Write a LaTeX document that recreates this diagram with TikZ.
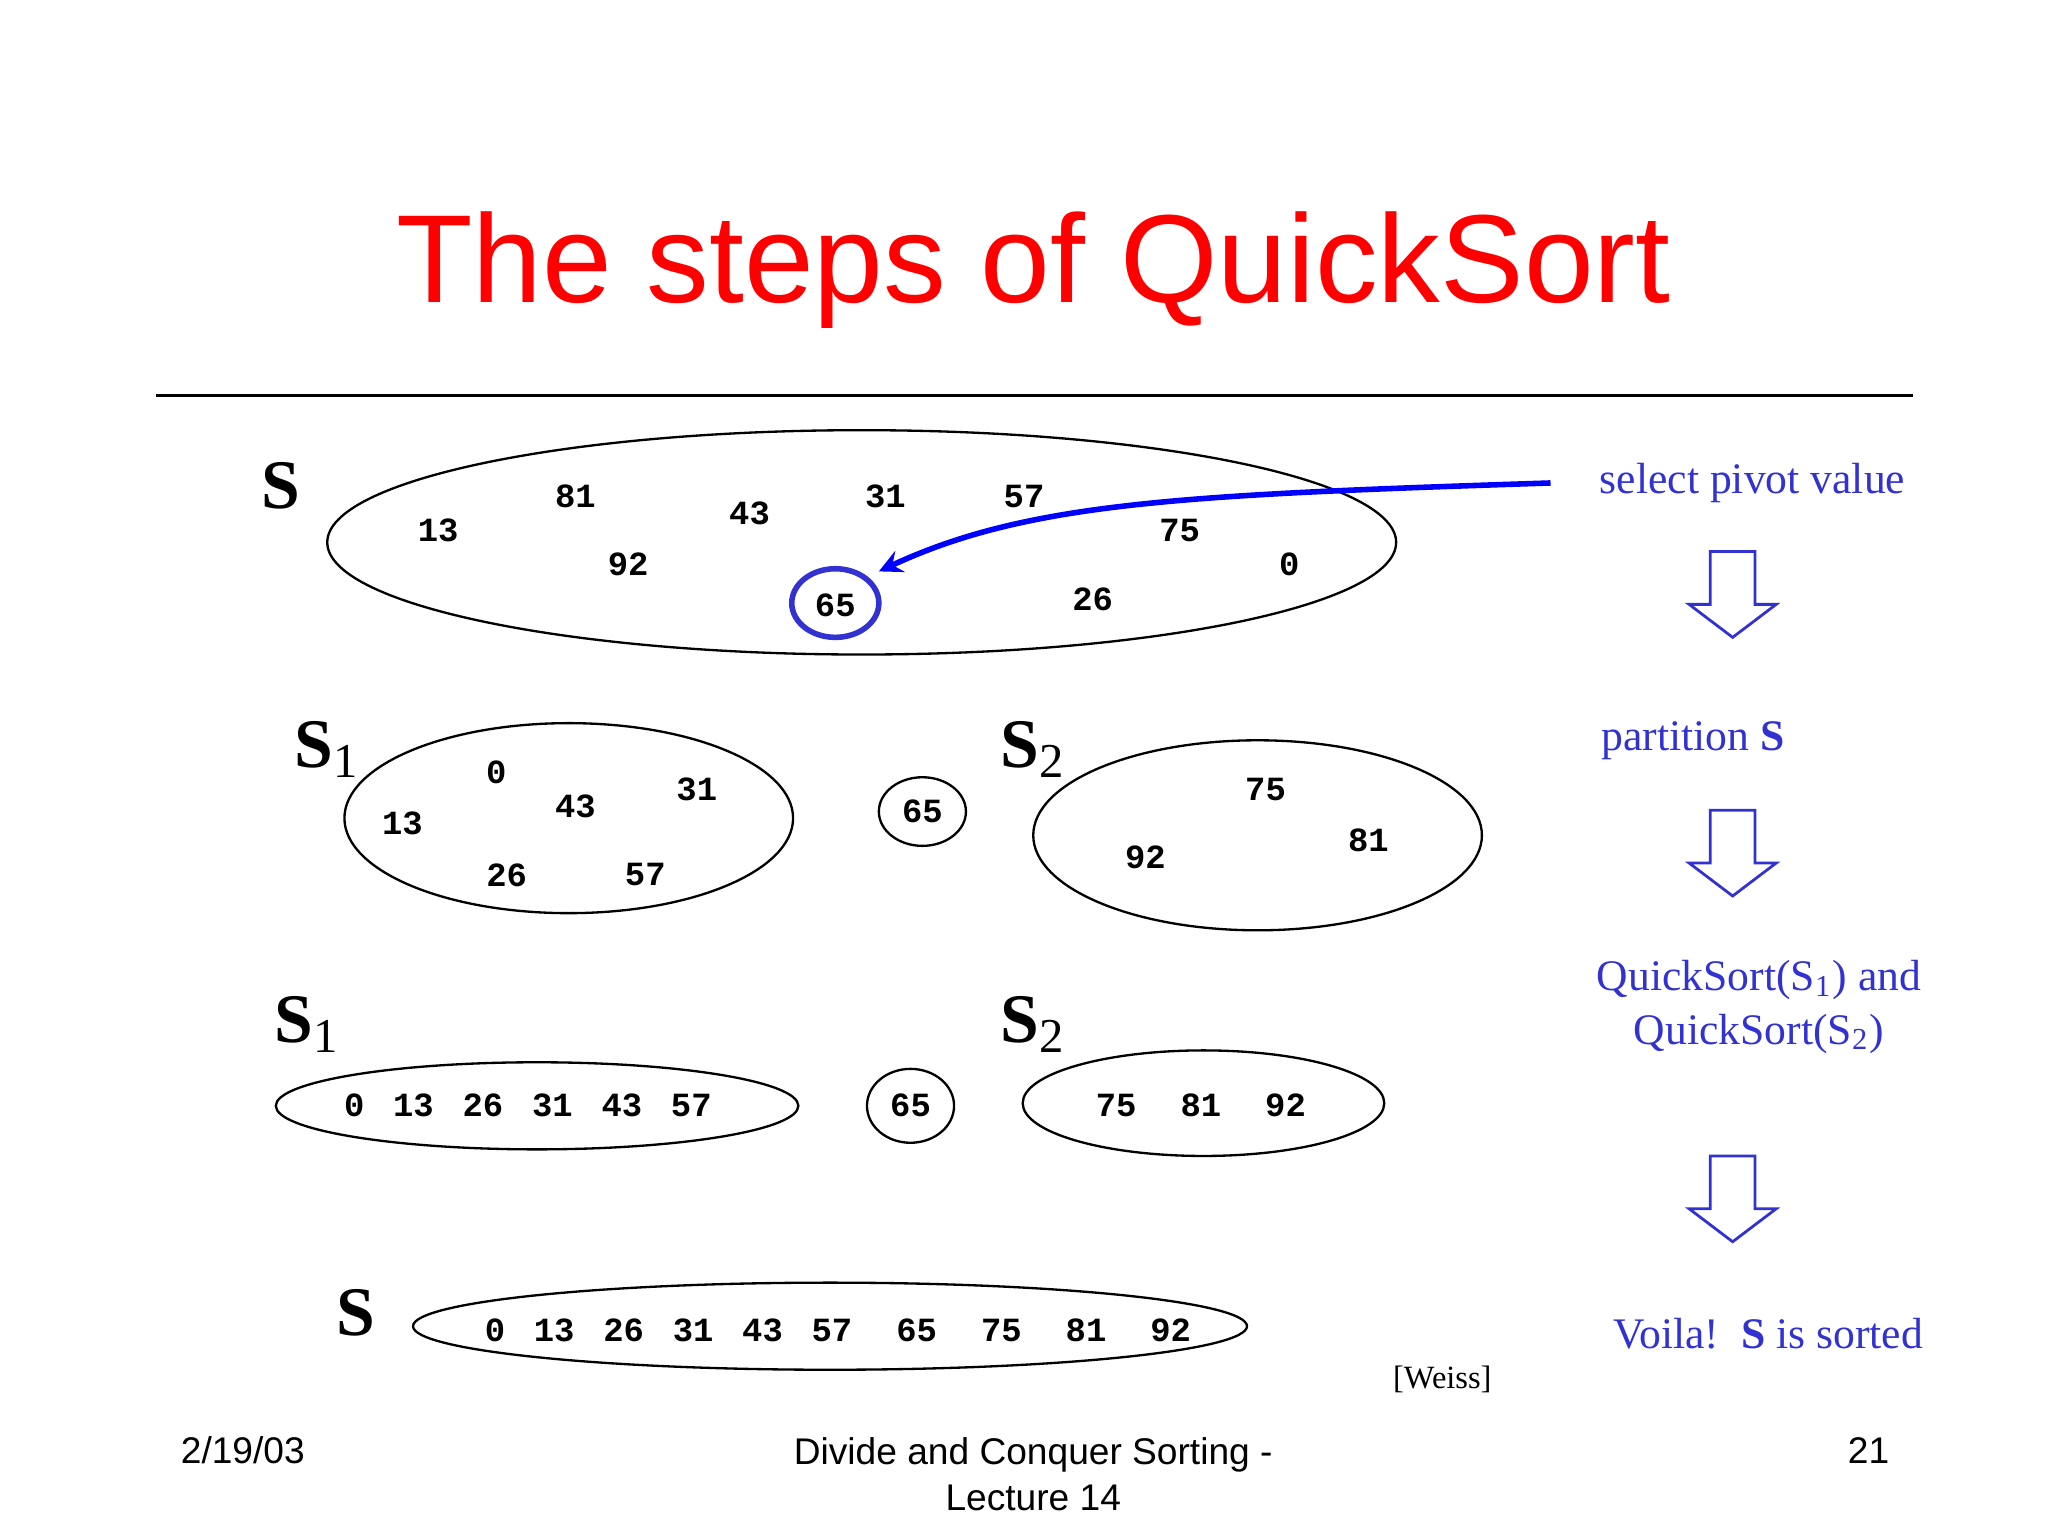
\documentclass[tikz,border=0pt]{standalone}
\usepackage{fontspec}
\setmainfont{Liberation Serif}
\setsansfont{Liberation Sans}
\setmonofont{Liberation Mono}
\usetikzlibrary{shapes.geometric}
\definecolor{pblue}{RGB}{50,50,210}
\newcommand{\gA}{\hspace{0.85em}}
\newcommand{\gB}{\hspace{1.3em}}
\tikzset{
 num/.style={font=\ttfamily\bfseries\fontsize{7.3}{8}\selectfont},
 slab/.style={font=\bfseries\fontsize{15}{16}\selectfont},
 btext/.style={text=pblue,font=\fontsize{9.4}{11.5}\selectfont},
 foot/.style={font=\sffamily\fontsize{8}{10}\selectfont},
 downarr/.style={draw=pblue,line width=0.6pt}
}
\begin{document}
\begin{tikzpicture}[x=0.01cm,y=-0.01cm]
\useasboundingbox (0,0) rectangle (1552,1164);
\node[text=red,font=\sffamily\fontsize{27}{30}\selectfont] (title) at (783,205) {The steps of QuickSort};
\coordinate (l1) at (118,300); \coordinate (l2) at (1450,300);
\draw[line width=0.6pt] (l1) -- (l2);
% row 1
\node[slab] (s0) at (213,368) {S};
\draw[line width=0.5pt] (653,411) ellipse (405 and 85);
\foreach \t/\x/\y in {13/332/402,81/436/376,92/476/428,43/568/389,31/671/376,57/776/376,75/894/402,0/977/428,26/828/454}
  \node[num] at (\x,\y) {\t};
\node[num] (p65) at (633,459) {65};
\draw[pblue,line width=1.2pt] (633,457) ellipse (33 and 26);
\node[btext,anchor=west] (sel) at (1200,366) {select pivot value};
\coordinate (pv) at (666,433);
\draw[blue,line width=1.2pt,-stealth] (1175,366) .. controls (900,375) and (780,380) .. (pv);
% down arrows
\foreach \yy in {418,614,876}{
 \draw[downarr] (1296,\yy) -- (1330,\yy) -- (1330,\yy+40) -- (1346,\yy+40) -- (1313,\yy+65) -- (1280,\yy+40) -- (1296,\yy+40) -- cycle;
}
% row 2
\node[slab] (s1a) at (248,568) {S\textsubscript{\mdseries 1}};
\draw[line width=0.5pt] (431,620) ellipse (170 and 72);
\foreach \t/\x/\y in {0/376/585,13/305/624,43/436/611,31/528/598,26/384/663,57/489/663}
  \node[num] at (\x,\y) {\t};
\node[num] (m65a) at (699,615) {65};
\draw[line width=0.5pt] (699,615) ellipse (33 and 26);
\node[slab] (s2a) at (783,568) {S\textsubscript{\mdseries 2}};
\draw[line width=0.5pt] (953,633) ellipse (170 and 72);
\foreach \t/\x/\y in {75/959/598,92/868/650,81/1037/637}
  \node[num] at (\x,\y) {\t};
\node[btext] (part) at (1283,561) {partition \textbf{S}};
% row 3
\node[slab] (s1b) at (233,776) {S\textsubscript{\mdseries 1}};
\draw[line width=0.5pt] (407,838) ellipse (198 and 33);
\node[num] (r1) at (400,838) {0\gA13\gA26\gA31\gA43\gA57};
\node[num] (m65b) at (690,838) {65};
\draw[line width=0.5pt] (690,838) ellipse (33 and 28);
\node[slab] (s2b) at (783,776) {S\textsubscript{\mdseries 2}};
\draw[line width=0.5pt] (912,836) ellipse (137 and 40);
\node[num] (r2) at (910,838) {75\gB81\gB92};
\node[btext,align=center] (qs) at (1333,763) {QuickSort(S\textsubscript{1}) and\\QuickSort(S\textsubscript{2})};
% row 4
\node[slab] (s3) at (270,995) {S};
\draw[line width=0.5pt] (629,1005) ellipse (316 and 33);
\node[num] (r3) at (635,1008) {0\gA13\gA26\gA31\gA43\gA57\gB65\gB75\gB81\gB92};
\node[btext] (voila) at (1340,1011) {Voila!\ \ \textbf{S} is sorted};
\node[font=\fontsize{7}{8}\selectfont] (weiss) at (1093,1045) {[Weiss]};
% footer
\node[foot] (date) at (184,1099) {2/19/03};
\node[foot,align=center] (ft) at (783,1117) {Divide and Conquer Sorting -\\Lecture 14};
\node[foot] (pg) at (1416,1099) {21};
\end{tikzpicture}
\end{document}
